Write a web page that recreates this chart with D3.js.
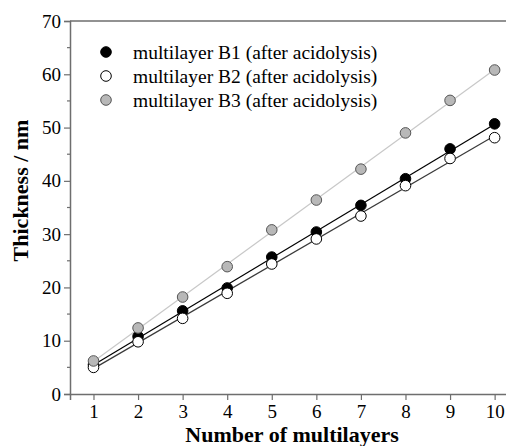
<!DOCTYPE html>
<html lang="en">
<head>
    <meta charset="UTF-8">
    <script src="https://d3js.org/d3.v7.min.js"></script>
    <style>
        body { margin: 0; background: #fff; }
        svg text { font-family: "Liberation Serif", "Times New Roman", serif; fill: #000; }
    </style>
</head>
<body>
    <div id="chart"></div>

    <script>
        // data
        var layers = [1, 2, 3, 4, 5, 6, 7, 8, 9, 10];
        var b1 = [5.5, 10.8, 15.6, 19.9, 25.7, 30.4, 35.4, 40.4, 46.0, 50.7];
        var b2 = [5.0, 9.8, 14.2, 18.9, 24.4, 29.1, 33.4, 39.1, 44.2, 48.1];
        var b3 = [6.2, 12.4, 18.2, 23.9, 30.8, 36.4, 42.2, 49.0, 55.1, 60.8];
        var seriesNames = ["multilayer B1 (after acidolysis)", "multilayer B2 (after acidolysis)", "multilayer B3 (after acidolysis)"];
        var yTicks = [0, 10, 20, 30, 40, 50, 60, 70];
        var yMinor = [5, 15, 25, 35, 45, 55, 65];

        var W = 506, H = 446;
        var margin = { top: 21, right: 0, bottom: 52, left: 70 };
        var serif = "'Liberation Serif', 'Times New Roman', serif";

        var series = [
            { name: seriesNames[0], values: b1, fill: "#000", stroke: "#000", line: "#000" },
            { name: seriesNames[1], values: b2, fill: "#fff", stroke: "#000", line: "#3a3a3a" },
            { name: seriesNames[2], values: b3, fill: "#b8b8b8", stroke: "#555", line: "#c8c8c8" }
        ];

        var svg = d3.select("#chart").append("svg")
            .attr("width", W)
            .attr("height", H)
            .attr("font-family", serif);

        var x = d3.scaleLinear().domain([0.473, 10.3]).range([margin.left, 508]);
        var y = d3.scaleLinear().domain([0, 70]).range([H - margin.bottom, margin.top]);

        var axisColor = "#6e6e6e";

        // top frame line
        svg.append("line")
            .attr("x1", margin.left).attr("x2", W)
            .attr("y1", y(70)).attr("y2", y(70))
            .attr("stroke", axisColor).attr("stroke-width", 1.5);

        // y axis
        var yAxis = svg.append("g")
            .attr("transform", "translate(" + margin.left + ",0)")
            .call(d3.axisLeft(y).tickValues(yTicks).tickSize(6).tickPadding(3).tickFormat(d3.format("d")))
            .attr("font-family", serif);
        yAxis.selectAll("line").attr("stroke", axisColor).attr("stroke-width", 1.2);
        yAxis.select(".domain").attr("stroke", axisColor).attr("stroke-width", 1.5);
        yAxis.selectAll("text").style("font-size", "19px");

        svg.append("g")
            .selectAll("line")
            .data(yMinor)
            .enter().append("line")
            .attr("x1", margin.left - 3).attr("x2", margin.left)
            .attr("y1", function (d) { return y(d); })
            .attr("y2", function (d) { return y(d); })
            .attr("stroke", axisColor).attr("stroke-width", 1.2);

        // x axis
        var xAxis = svg.append("g")
            .attr("transform", "translate(0," + y(0) + ")")
            .call(d3.axisBottom(x).tickValues(layers).tickSize(6).tickPadding(5).tickFormat(d3.format("d")))
            .attr("font-family", serif);
        xAxis.selectAll("line").attr("stroke", axisColor).attr("stroke-width", 1.2);
        xAxis.select(".domain").attr("stroke", axisColor).attr("stroke-width", 1.5);
        xAxis.selectAll("text").style("font-size", "19px");

        // linear fits
        function fit(vals) {
            var mx = d3.mean(layers), my = d3.mean(vals);
            var num = d3.sum(layers, function (d, i) { return (d - mx) * (vals[i] - my); });
            var den = d3.sum(layers, function (d) { return (d - mx) * (d - mx); });
            var k = num / den;
            return { k: k, b: my - k * mx };
        }

        series.forEach(function (s) {
            var f = fit(s.values);
            svg.append("line")
                .attr("x1", x(1)).attr("x2", x(10))
                .attr("y1", y(f.k * 1 + f.b))
                .attr("y2", y(f.k * 10 + f.b))
                .attr("stroke", s.line).attr("stroke-width", 1.2);
        });

        series.forEach(function (s) {
            svg.append("g")
                .selectAll("circle")
                .data(s.values)
                .enter().append("circle")
                .attr("cx", function (d, i) { return x(layers[i]); })
                .attr("cy", function (d) { return y(d); })
                .attr("r", 5.3)
                .attr("fill", s.fill)
                .attr("stroke", s.stroke)
                .attr("stroke-width", 1);
        });

        // legend
        var legend = svg.append("g").attr("transform", "translate(106,52)");
        series.forEach(function (s, i) {
            var g = legend.append("g").attr("transform", "translate(0," + i * 24 + ")");
            g.append("circle")
                .attr("r", 5.3)
                .attr("fill", s.fill)
                .attr("stroke", s.stroke);
            g.append("text")
                .attr("x", 27)
                .attr("y", 6.5)
                .style("font-size", "19.5px")
                .text(s.name);
        });

        // axis titles
        svg.append("text")
            .attr("x", (x(1) + x(10)) / 2 - 2)
            .attr("y", 442)
            .attr("text-anchor", "middle")
            .style("font-size", "22px")
            .style("font-weight", "bold")
            .text("Number of multilayers");

        svg.append("text")
            .attr("transform", "translate(28," + 190.5 + ") rotate(-90)")
            .attr("text-anchor", "middle")
            .style("font-size", "22px")
            .style("font-weight", "bold")
            .text("Thickness / nm");
    </script>
</body>
</html>
